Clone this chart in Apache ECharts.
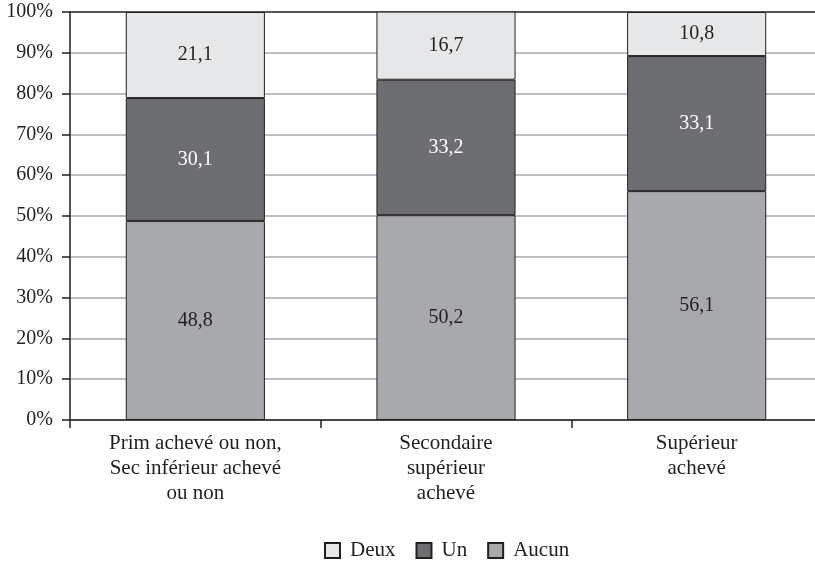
<!DOCTYPE html>
<html>
<head>
<meta charset="utf-8">
<script src="https://cdn.jsdelivr.net/npm/echarts@6/dist/echarts.min.js"></script>
<style>
  html, body { margin: 0; padding: 0; background: #fff; }
  #chart { width: 815px; height: 561px; }
</style>
</head>
<body>
<div id="chart"></div>
<script>
// Niveau d'instruction (catégories de l'axe horizontal)
const categories = [
  'Prim achevé ou non,\nSec inférieur achevé\nou non',
  'Secondaire\nsupérieur\nachevé',
  'Supérieur\nachevé'
];

// Parts en pourcentage, empilées de bas en haut
const aucun = [48.8, 50.2, 56.1];
const un = [30.1, 33.2, 33.1];
const deux = [21.1, 16.7, 10.8];

const legendOrder = ['Deux', 'Un', 'Aucun'];

const FONT = '"Liberation Serif", "DejaVu Serif", serif';
const INK = '#231f20';
const GRID_GREY = '#a7a9ac';

// Grey grid lines from 0 % to 90 %, dark frame line at 100 %
const splitColors = Array.from({ length: 11 }, (_, i) => (i === 10 ? INK : GRID_GREY));

function frenchNumber(v) {
  return String(v).replace('.', ',');
}

function stackSeries(name, data, fill, labelColor) {
  return {
    name: name,
    type: 'bar',
    stack: 'total',
    data: data,
    barWidth: '55.5%',
    itemStyle: { color: fill, borderColor: INK, borderWidth: 1 },
    label: {
      show: true,
      position: 'inside',
      color: labelColor,
      fontFamily: FONT,
      fontSize: 20,
      formatter: p => frenchNumber(p.value)
    },
    emphasis: { disabled: true }
  };
}

const chart = echarts.init(document.getElementById('chart'), null, { renderer: 'canvas' });

chart.setOption({
  animation: false,
  backgroundColor: '#ffffff',
  grid: {
    left: 70,
    width: 752,
    top: 12,
    height: 408,
    containLabel: false,
    outerBoundsMode: 'none',
    show: false
  },
  legend: {
    data: legendOrder,
    top: 540,
    left: 324,
    padding: 0,
    itemWidth: 15,
    itemHeight: 15,
    itemGap: 20,
    icon: 'rect',
    textStyle: {
      fontFamily: FONT,
      fontSize: 21,
      color: INK,
      padding: [0, 0, 0, 5]
    }
  },
  xAxis: {
    type: 'category',
    data: categories,
    axisLine: { lineStyle: { color: INK, width: 1.5 } },
    axisTick: { show: true, length: 8, alignWithLabel: false, lineStyle: { color: INK, width: 1.5 } },
    axisLabel: {
      fontFamily: FONT,
      fontSize: 21,
      lineHeight: 25,
      color: INK,
      margin: 11,
      interval: 0
    },
    splitLine: { show: false }
  },
  yAxis: {
    type: 'value',
    min: 0,
    max: 100,
    interval: 10,
    axisLine: { show: true, lineStyle: { color: INK, width: 1.5 } },
    axisTick: { show: true, length: 8, lineStyle: { color: INK, width: 1.5 } },
    axisLabel: {
      fontFamily: FONT,
      fontSize: 20,
      color: INK,
      margin: 17,
      formatter: '{value}%'
    },
    splitLine: { show: true, lineStyle: { color: splitColors, width: 1.5 } }
  },
  series: [
    stackSeries('Aucun', aucun, '#a7a9ac', INK),
    stackSeries('Un', un, '#6d6e71', '#ffffff'),
    stackSeries('Deux', deux, '#e6e7e8', INK)
  ]
});
</script>
</body>
</html>
